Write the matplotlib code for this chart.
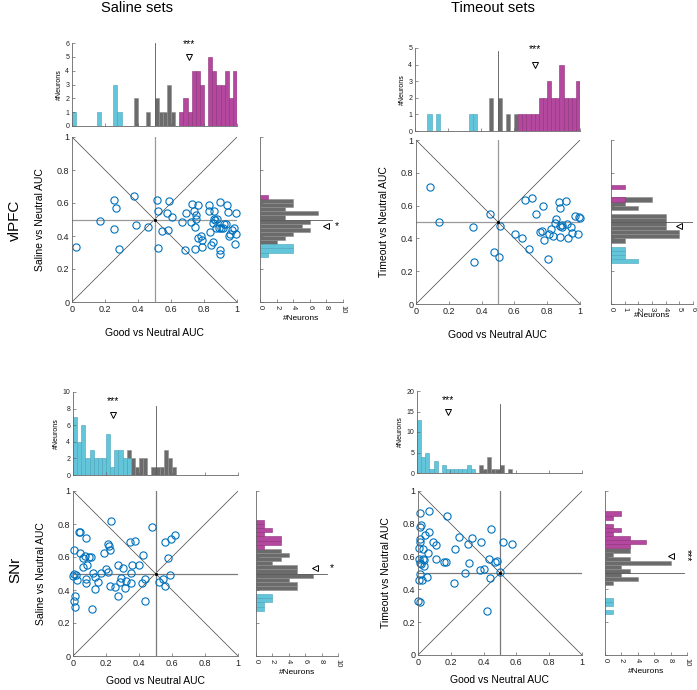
import numpy as np
import matplotlib
matplotlib.use("Agg")
from matplotlib import pyplot as plt

plt.rcParams['font.family'] = ['Liberation Sans', 'DejaVu Sans']

W, H = 697, 690
BIN = 0.025
CYAN = '#62c5da'
MAGENTA = '#b4479e'
GRAY = '#6b6b6b'
BLUE = '#0072bd'

# ---- vlPFC, saline ----
pfc_sal_x = [0.022, 0.168, 0.255, 0.269, 0.257, 0.285, 0.374, 0.390, 0.463, 0.515,
             0.523, 0.521, 0.590, 0.606, 0.574, 0.584, 0.548, 0.669, 0.687, 0.693,
             0.727, 0.737, 0.752, 0.752, 0.721, 0.743, 0.743, 0.764, 0.762, 0.782,
             0.790, 0.788, 0.828, 0.828, 0.834, 0.844, 0.855, 0.861, 0.859, 0.869,
             0.881, 0.853, 0.875, 0.895, 0.889, 0.903, 0.899, 0.895, 0.915, 0.923,
             0.935, 0.941, 0.943, 0.956, 0.952, 0.968, 0.980, 0.986, 0.996, 0.996]
pfc_sal_y = [0.333, 0.489, 0.616, 0.568, 0.442, 0.321, 0.640, 0.467, 0.455, 0.620,
             0.549, 0.329, 0.612, 0.515, 0.539, 0.438, 0.432, 0.487, 0.313, 0.539,
             0.594, 0.552, 0.529, 0.503, 0.487, 0.453, 0.321, 0.586, 0.386, 0.398,
             0.378, 0.333, 0.590, 0.554, 0.426, 0.347, 0.364, 0.554, 0.503, 0.499,
             0.503, 0.479, 0.451, 0.606, 0.451, 0.451, 0.317, 0.293, 0.448, 0.471,
             0.473, 0.586, 0.545, 0.414, 0.402, 0.438, 0.446, 0.352, 0.410, 0.537]
pfc_sal_top_cyan = ([0, 6, 10, 11], [1, 1, 3, 1])
pfc_sal_top_gray = ([15, 18, 20, 21, 22, 23, 24], [2, 1, 2, 1, 1, 3, 1])
pfc_sal_top_mag = (list(range(26, 40)), [1, 2, 1, 4, 4, 3, 0, 5, 4, 3, 3, 4, 2, 4])
pfc_sal_side_cyan = ([13, 12, 11], [4, 4, 1])
pfc_sal_side_gray = (list(range(24, 13, -1)), [4, 4, 3, 7, 3, 6, 5, 6, 4, 3, 2])
pfc_sal_side_mag = ([25], [1])

# ---- vlPFC, timeout ----
pfc_to_x = [0.083, 0.142, 0.347, 0.353, 0.450, 0.475, 0.509, 0.513, 0.606, 0.647,
            0.667, 0.688, 0.708, 0.734, 0.757, 0.769, 0.777, 0.781, 0.803, 0.813,
            0.824, 0.834, 0.848, 0.854, 0.870, 0.876, 0.876, 0.880, 0.888, 0.892,
            0.915, 0.919, 0.929, 0.945, 0.949, 0.972, 0.988, 0.992, 0.998]
pfc_to_y = [0.715, 0.502, 0.467, 0.258, 0.547, 0.317, 0.289, 0.476, 0.429, 0.400,
            0.632, 0.333, 0.648, 0.547, 0.441, 0.447, 0.596, 0.388, 0.274, 0.427,
            0.455, 0.417, 0.492, 0.520, 0.624, 0.587, 0.476, 0.411, 0.484, 0.472,
            0.626, 0.486, 0.404, 0.470, 0.435, 0.539, 0.425, 0.528, 0.522]
pfc_to_top_cyan = ([3, 5, 13, 14], [1, 1, 1, 1])
pfc_to_top_gray = ([18, 20, 22, 24], [2, 2, 1, 1])
pfc_to_top_mag = (list(range(25, 40)), [1, 1, 1, 1, 1, 2, 2, 3, 2, 2, 4, 2, 2, 2, 3])
pfc_to_side_cyan = ([13, 12, 11, 10], [1, 1, 1, 2])
pfc_to_side_gray = ([25, 24, 23, 21, 20, 19, 18, 17, 16, 15], [3, 1, 2, 4, 4, 4, 4, 5, 5, 1])
pfc_to_side_mag = ([28, 25], [1, 1])

# ---- SNr, saline ----
snr_sal_x = [0.230, 0.479, 0.034, 0.042, 0.081, 0.343, 0.376, 0.560, 0.594, 0.618,
             0.212, 0.216, 0.224, 0.008, 0.040, 0.073, 0.063, 0.095, 0.107, 0.186,
             0.424, 0.578, 0.085, 0.061, 0.275, 0.305, 0.202, 0.212, 0.172, 0.123,
             0.135, 0.360, 0.400, 0.352, 0.004, 0.016, 0.000, 0.026, 0.077, 0.077,
             0.154, 0.222, 0.253, 0.291, 0.287, 0.315, 0.323, 0.349, 0.420, 0.436,
             0.133, 0.273, 0.438, 0.115, 0.014, 0.006, 0.010, 0.521, 0.547, 0.560,
             0.590]
snr_sal_y = [0.818, 0.780, 0.753, 0.753, 0.715, 0.690, 0.700, 0.690, 0.708, 0.733,
             0.680, 0.664, 0.644, 0.644, 0.627, 0.609, 0.593, 0.599, 0.603, 0.623,
             0.613, 0.595, 0.550, 0.542, 0.550, 0.532, 0.528, 0.510, 0.506, 0.506,
             0.477, 0.550, 0.550, 0.502, 0.497, 0.493, 0.485, 0.461, 0.469, 0.441,
             0.447, 0.426, 0.416, 0.473, 0.447, 0.410, 0.455, 0.445, 0.445, 0.465,
             0.404, 0.363, 0.335, 0.282, 0.363, 0.333, 0.298, 0.451, 0.465, 0.426,
             0.489]
snr_sal_top_cyan = (list(range(0, 14)), [7, 4, 6, 2, 3, 2, 2, 2, 5, 1, 3, 3, 2, 2])
snr_sal_top_gray = ([13, 14, 15, 16, 17, 19, 20, 21, 22, 23, 24], [3, 2, 1, 2, 2, 1, 1, 1, 3, 2, 1])
snr_sal_side_cyan = ([14, 13, 12, 11], [2, 2, 1, 1])
snr_sal_side_gray = (list(range(25, 15, -1)), [3, 4, 3, 2, 5, 5, 7, 4, 5, 5])
snr_sal_side_mag = ([32, 31, 30, 29, 28, 27, 26], [1, 1, 2, 1, 3, 3, 1])

# ---- SNr, timeout ----
snr_to_x = [0.010, 0.065, 0.179, 0.020, 0.010, 0.067, 0.045, 0.447, 0.014, 0.014,
            0.091, 0.108, 0.252, 0.329, 0.386, 0.305, 0.518, 0.573, 0.004, 0.030,
            0.228, 0.063, 0.006, 0.030, 0.112, 0.037, 0.157, 0.173, 0.010, 0.020,
            0.037, 0.309, 0.433, 0.470, 0.484, 0.376, 0.402, 0.289, 0.010, 0.441,
            0.004, 0.026, 0.055, 0.220, 0.502, 0.000, 0.014, 0.421]
snr_to_y = [0.866, 0.876, 0.849, 0.794, 0.778, 0.747, 0.733, 0.768, 0.707, 0.692,
            0.686, 0.670, 0.719, 0.713, 0.686, 0.676, 0.688, 0.676, 0.652, 0.646,
            0.646, 0.625, 0.585, 0.585, 0.585, 0.580, 0.566, 0.566, 0.564, 0.556,
            0.540, 0.564, 0.587, 0.566, 0.576, 0.519, 0.525, 0.499, 0.495, 0.468,
            0.458, 0.458, 0.475, 0.442, 0.505, 0.332, 0.326, 0.269]
snr_to_top_cyan = ([0, 1, 2, 3, 4, 6, 7, 8, 9, 10, 11, 12, 13], [13, 4, 5, 1, 3, 2, 1, 1, 1, 1, 1, 2, 1])
snr_to_top_gray = ([15, 16, 17, 18, 19, 20, 22], [2, 1, 4, 1, 1, 2, 1])
snr_to_side_cyan = ([13, 12, 10], [1, 1, 1])
snr_to_side_gray = (list(range(25, 16, -1)), [3, 1, 3, 8, 2, 3, 2, 4, 1])
snr_to_side_mag = ([34, 33, 31, 30, 29, 28, 27, 26], [2, 1, 1, 2, 1, 3, 5, 3])

EDGE = {CYAN: '#4aa3b8', GRAY: '#8e8e8e', MAGENTA: '#8c3079'}


def box(x0, y0, x1, y1):
    return [x0 / W, 1 - y1 / H, (x1 - x0) / W, (y1 - y0) / H]


fig = plt.figure(figsize=(W / 100, H / 100), dpi=100)


def style(ax, size):
    for s in ['top', 'right']:
        ax.spines[s].set_visible(False)
    for s in ['left', 'bottom']:
        ax.spines[s].set_color('#666666')
        ax.spines[s].set_linewidth(0.6)
    ax.tick_params(direction='in', length=2.5, width=0.5, labelsize=size, pad=2,
                   color='#666666', labelcolor='#222222')


def scatter_panel(rect, xs, ys, ylabel, cross='#999999', xpad=10):
    ax = fig.add_axes(rect)
    ax.plot([0, 1], [0, 1], color='#444444', lw=0.5)
    ax.plot([0, 1], [1, 0], color='#444444', lw=0.5)
    ax.plot([0.5, 0.5], [0, 1], color=cross, lw=0.9)
    ax.plot([0, 1], [0.5, 0.5], color=cross, lw=0.9)
    ax.plot(xs, ys, 'o', mfc='none', mec=BLUE, ms=5.2, mew=0.8, clip_on=False)
    ax.plot(0.5, 0.5, 'k.', ms=2.5)
    ax.set_xlim(0, 1)
    ax.set_ylim(0, 1)
    ticks = [0, 0.2, 0.4, 0.6, 0.8, 1]
    ax.set_xticks(ticks)
    ax.set_yticks(ticks)
    ax.set_xticklabels(['0', '0.2', '0.4', '0.6', '0.8', '1'])
    ax.set_yticklabels(['0', '0.2', '0.4', '0.6', '0.8', '1'])
    style(ax, 6.5)
    ax.set_xlabel('Good vs Neutral AUC', fontsize=7.5, labelpad=xpad)
    ax.set_ylabel(ylabel, fontsize=7.5, labelpad=8)
    return ax


def top_hist(rect, ymax, yticks, cyan, gray, mag, line_top, tri, star_y):
    ax = fig.add_axes(rect)
    for data, col in [(gray, GRAY), (cyan, CYAN), (mag, MAGENTA)]:
        if data is None:
            continue
        ax.bar(np.array(data[0]) * BIN, data[1], width=BIN, align='edge',
               color=col, edgecolor=EDGE[col], lw=0.4)
    ax.plot([0.5, 0.5], [0, line_top], color='#555555', lw=0.6)
    ax.plot(tri[0], tri[1], marker='v', mfc='none', mec='k', ms=4, mew=0.7)
    ax.text(tri[0], star_y, '***', ha='center', va='center', fontsize=7.5)
    ax.set_xlim(0, 1)
    ax.set_ylim(0, ymax)
    ax.set_xticks([0, 0.2, 0.4, 0.6, 0.8, 1])
    ax.set_xticklabels([])
    ax.set_yticks(yticks)
    style(ax, 5)
    ax.set_ylabel('#Neurons', fontsize=5, labelpad=1.5)
    return ax


def side_hist(rect, xmax, xticks, cyan, gray, mag, line_end, tri, star, star_rot=0):
    ax = fig.add_axes(rect)
    for data, col in [(gray, GRAY), (cyan, CYAN), (mag, MAGENTA)]:
        ax.barh(np.array(data[0]) * BIN, data[1], height=BIN, align='edge',
                color=col, edgecolor=EDGE[col], lw=0.4)
    ax.plot([0, line_end], [0.5, 0.5], color='#555555', lw=0.6)
    ax.plot(tri[0], tri[1], marker='<', mfc='none', mec='k', ms=4, mew=0.7)
    if star:
        ax.text(star[0], star[1], star[2], ha='center', va='center', fontsize=7.5,
                rotation=star_rot)
    ax.set_xlim(0, xmax)
    ax.set_ylim(0, 1)
    ax.set_yticks([0, 0.2, 0.4, 0.6, 0.8, 1])
    ax.set_yticklabels([])
    ax.set_xticks(xticks)
    style(ax, 5.5)
    for lab in ax.get_xticklabels():
        lab.set_rotation(-90)
    ax.set_xlabel('#Neurons', fontsize=6, labelpad=1)
    return ax


# vlPFC saline
top_hist(box(72, 43, 237, 126), 6, range(0, 7), pfc_sal_top_cyan, pfc_sal_top_gray,
         pfc_sal_top_mag, 6, (0.71, 5.0), 5.95)
scatter_panel(box(72, 137, 237, 302), pfc_sal_x, pfc_sal_y, 'Saline vs Neutral AUC')
side_hist(box(260, 137, 343, 302), 10, range(0, 11, 2), pfc_sal_side_cyan,
          pfc_sal_side_gray, pfc_sal_side_mag, 8.7, (7.9, 0.459), (9.3, 0.459, '*'))

# vlPFC timeout
top_hist(box(415, 48, 580, 131), 5, range(0, 6), pfc_to_top_cyan, pfc_to_top_gray,
         pfc_to_top_mag, 4.8, (0.727, 4.0), 4.95)
scatter_panel(box(416, 140, 580, 304), pfc_to_x, pfc_to_y, 'Timeout vs Neutral AUC')
side_hist(box(611, 140, 693, 304), 6, range(0, 7), pfc_to_side_cyan,
          pfc_to_side_gray, pfc_to_side_mag, 6, (5.0, 0.478), None)

# SNr saline
top_hist(box(73, 392, 238, 475), 10, range(0, 11, 2), snr_sal_top_cyan, snr_sal_top_gray,
         None, 8.3, (0.245, 7.2), 8.9)
scatter_panel(box(73, 491, 238, 656), snr_sal_x, snr_sal_y, 'Saline vs Neutral AUC',
              cross='#7a7a7a', xpad=6)
side_hist(box(256, 491, 338, 656), 10, range(0, 11, 2), snr_sal_side_cyan,
          snr_sal_side_gray, snr_sal_side_mag, 8.7, (7.2, 0.532), (9.3, 0.532, '*'))

# SNr timeout
top_hist(box(417, 391, 582, 473), 20, range(0, 21, 5), snr_to_top_cyan, snr_to_top_gray,
         None, 16.8, (0.187, 15), 17.8)
scatter_panel(box(418, 491, 582, 655), snr_to_x, snr_to_y, 'Timeout vs Neutral AUC',
              cross='#7a7a7a', xpad=6)
side_hist(box(605, 491, 687, 655), 10, range(0, 11, 2), snr_to_side_cyan,
          snr_to_side_gray, snr_to_side_mag, 9.6, (8.0, 0.601), (10.0, 0.61, '***'), -90)

fig.text(137 / W, 1 - 8 / H, 'Saline sets', ha='center', va='center', fontsize=10.5)
fig.text(493 / W, 1 - 8 / H, 'Timeout sets', ha='center', va='center', fontsize=10.5)
fig.text(15 / W, 1 - 220 / H, 'vlPFC', ha='center', va='center', fontsize=11, rotation=90)
fig.text(15 / W, 1 - 570 / H, 'SNr', ha='center', va='center', fontsize=11, rotation=90)

fig.savefig('out.png', dpi=100)
